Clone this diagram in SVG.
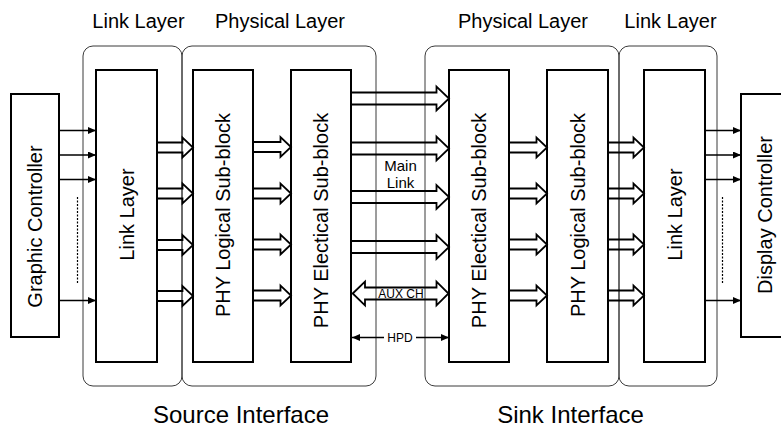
<svg xmlns="http://www.w3.org/2000/svg" width="781" height="430" viewBox="0 0 781 430">
<style>
  .cont{fill:none;stroke:#3a3a3a;stroke-width:1}
  .box{fill:#fff;stroke:#000;stroke-width:2}
  .blk{fill:none;stroke:#000;stroke-width:1.8;stroke-linejoin:miter}
  .thin{fill:none;stroke:#000;stroke-width:1.3}
  .dot{fill:none;stroke:#000;stroke-width:1.2;stroke-dasharray:2 1.5}
  text{font-family:"Liberation Sans",Arial,sans-serif;fill:#000}
  .hdr{font-size:20px;text-anchor:middle}
  .ftr{font-size:24px;text-anchor:middle}
  .vt{font-size:20px;text-anchor:middle;dominant-baseline:central}
  .sm{font-size:15px;text-anchor:middle}
  .xs{font-size:12px;text-anchor:middle}
</style>
<defs>
  <marker id="ah" markerUnits="userSpaceOnUse" markerWidth="9" markerHeight="8" refX="8" refY="3.5" orient="auto-start-reverse">
    <path d="M0,0 L8,3.5 L0,7 Z" fill="#000"/>
  </marker>
  <path id="sa" d="M0,-5 H26.5 V-10 L37,0 L26.5,10 V5 H0"/>
  <path id="ma" d="M0,-6 H85.5 V-12 L98,0 L85.5,12 V6 H0"/>
</defs>

<g id="labels">
  <text class="hdr" x="138.5" y="27.5">Link Layer</text>
  <text class="hdr" x="280" y="27.5">Physical Layer</text>
  <text class="hdr" x="523" y="27.5">Physical Layer</text>
  <text class="hdr" x="670.5" y="27.5">Link Layer</text>
  <text class="ftr" x="241" y="423">Source Interface</text>
  <text class="ftr" x="570.5" y="423">Sink Interface</text>
</g>

<g id="containers">
  <rect id="src-link-layer" class="cont" x="83" y="46" width="99" height="340" rx="10"/>
  <rect id="src-physical-layer" class="cont" x="182" y="46" width="194" height="340" rx="10"/>
  <rect id="sink-physical-layer" class="cont" x="425" y="46" width="194" height="340" rx="10"/>
  <rect id="sink-link-layer" class="cont" x="619" y="46" width="98" height="340" rx="10"/>
</g>

<g id="graphic-controller">
  <rect class="box" x="11" y="94" width="48" height="243"/>
  <text class="vt" transform="translate(35,226.5) rotate(-90)">Graphic Controller</text>
</g>
<g id="src-link">
  <rect class="box" x="96" y="70" width="61" height="292"/>
  <text class="vt" transform="translate(126.5,214.5) rotate(-90)">Link Layer</text>
</g>
<g id="src-phy-logical">
  <rect class="box" x="193" y="70" width="60" height="292"/>
  <text class="vt" transform="translate(223,215) rotate(-90)">PHY Logical Sub-block</text>
</g>
<g id="src-phy-electrical">
  <rect class="box" x="291" y="70" width="60" height="292"/>
  <text class="vt" transform="translate(321,220.5) rotate(-90)">PHY Electical Sub-block</text>
</g>
<g id="sink-phy-electrical">
  <rect class="box" x="449" y="70" width="60" height="292"/>
  <text class="vt" transform="translate(479,220.5) rotate(-90)">PHY Electical Sub-block</text>
</g>
<g id="sink-phy-logical">
  <rect class="box" x="547" y="70" width="61" height="292"/>
  <text class="vt" transform="translate(577.5,215) rotate(-90)">PHY Logical Sub-block</text>
</g>
<g id="sink-link">
  <rect class="box" x="644" y="70" width="61" height="292"/>
  <text class="vt" transform="translate(674.5,214.5) rotate(-90)">Link Layer</text>
</g>
<g id="display-controller">
  <rect class="box" x="741" y="94" width="48" height="243"/>
  <text class="vt" transform="translate(765,215) rotate(-90)">Display Controller</text>
</g>

<g id="connectors">
  <!-- Graphic Controller -> Link Layer -->
  <line class="thin" x1="59" y1="130.5" x2="96" y2="130.5" marker-end="url(#ah)"/>
  <line class="thin" x1="59" y1="155" x2="96" y2="155" marker-end="url(#ah)"/>
  <line class="thin" x1="59" y1="179.5" x2="96" y2="179.5" marker-end="url(#ah)"/>
  <line class="thin" x1="59" y1="300.5" x2="96" y2="300.5" marker-end="url(#ah)"/>
  <line class="dot" x1="77.5" y1="197" x2="77.5" y2="283"/>

  <!-- Link Layer -> PHY Logical (source) -->
  <use href="#sa" class="blk" transform="translate(156,147.5)"/>
  <use href="#sa" class="blk" transform="translate(156,193.5)"/>
  <use href="#sa" class="blk" transform="translate(156,245)"/>
  <use href="#sa" class="blk" transform="translate(156,296)"/>

  <!-- PHY Logical -> PHY Electrical (source) -->
  <use href="#sa" class="blk" transform="translate(254,147)"/>
  <use href="#sa" class="blk" transform="translate(254,193.5)"/>
  <use href="#sa" class="blk" transform="translate(254,244.5)"/>
  <use href="#sa" class="blk" transform="translate(254,295.5)"/>

  <!-- Main Link -->
  <use href="#ma" class="blk" transform="translate(351,98.5)"/>
  <use href="#ma" class="blk" transform="translate(351,148.5)"/>
  <use href="#ma" class="blk" transform="translate(351,197)"/>
  <use href="#ma" class="blk" transform="translate(351,247)"/>
  <text class="sm" x="400.5" y="170.5">Main</text>
  <text class="sm" x="400.5" y="188">Link</text>

  <!-- AUX CH -->
  <path class="blk" d="M352.7,293.5 L365,281.7 V287.5 H436.5 V281.7 L448.5,293.5 L436.5,305.3 V299.5 H365 V305.3 Z"/>
  <text class="xs" x="401" y="298">AUX CH</text>

  <!-- HPD -->
  <line class="thin" x1="352" y1="337.5" x2="449" y2="337.5" marker-start="url(#ah)" marker-end="url(#ah)"/>
  <rect x="384" y="330" width="32" height="14" fill="#fff"/>
  <text class="xs" x="400" y="342">HPD</text>

  <!-- PHY Electrical -> PHY Logical (sink) -->
  <use href="#sa" class="blk" transform="translate(510,147.5)"/>
  <use href="#sa" class="blk" transform="translate(510,193.5)"/>
  <use href="#sa" class="blk" transform="translate(510,244.5)"/>
  <use href="#sa" class="blk" transform="translate(510,295.5)"/>

  <!-- PHY Logical -> Link Layer (sink) -->
  <use href="#sa" class="blk" transform="translate(607,147.5)"/>
  <use href="#sa" class="blk" transform="translate(607,193.5)"/>
  <use href="#sa" class="blk" transform="translate(607,244.5)"/>
  <use href="#sa" class="blk" transform="translate(607,295.5)"/>

  <!-- Link Layer -> Display Controller -->
  <line class="thin" x1="705" y1="130.5" x2="741" y2="130.5" marker-end="url(#ah)"/>
  <line class="thin" x1="705" y1="155" x2="741" y2="155" marker-end="url(#ah)"/>
  <line class="thin" x1="705" y1="179.5" x2="741" y2="179.5" marker-end="url(#ah)"/>
  <line class="thin" x1="705" y1="300.5" x2="741" y2="300.5" marker-end="url(#ah)"/>
  <line class="dot" x1="722.5" y1="197" x2="722.5" y2="283"/>
</g>
</svg>
